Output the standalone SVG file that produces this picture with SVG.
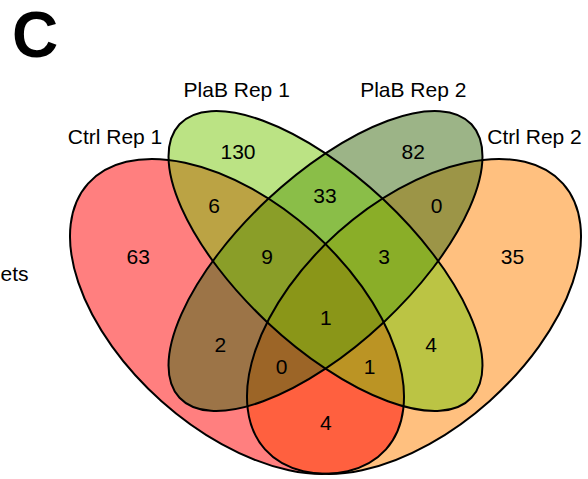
<svg xmlns="http://www.w3.org/2000/svg" width="588" height="479" viewBox="0 0 588 479">
  <style>
    .fill { stroke: none; fill-opacity: 0.5; }
    .line { fill: none; stroke: #000; stroke-width: 2; }
    .cat { font-family: "Liberation Sans", Arial, Helvetica, sans-serif; font-size: 21px; fill: #000; text-anchor: middle; }
    .num { font-family: "Liberation Sans", Arial, Helvetica, sans-serif; font-size: 21px; fill: #000; text-anchor: middle; }
  </style>
  <rect x="0" y="0" width="588" height="479" fill="#fff"/>

  <text x="12" y="57" font-family="Liberation Sans, Arial, sans-serif" font-weight="bold" font-size="64" fill="#000">C</text>
  <text x="0.5" y="281" font-family="Liberation Sans, Arial, sans-serif" font-size="21" fill="#000">ets</text>

  <!-- set fills (drawn first, semi-transparent) -->
  <g id="fills">
    <ellipse id="fill-ctrl2" class="fill" fill="#FF8200" cx="414" cy="316.5" rx="199.6" ry="113.4" transform="rotate(-41.72 414 316.5)"/>
    <ellipse id="fill-ctrl1" class="fill" fill="#FF0000" cx="237" cy="316.5" rx="199.6" ry="113.4" transform="rotate(41.72 237 316.5)"/>
    <ellipse id="fill-plab2" class="fill" fill="#3A6A10" cx="325.5" cy="261" rx="200" ry="84.5" transform="rotate(-43.13 325.5 261)"/>
    <ellipse id="fill-plab1" class="fill" fill="#78C80A" cx="325.5" cy="261" rx="200" ry="84.5" transform="rotate(43.13 325.5 261)"/>
  </g>

  <!-- set outlines (on top of all fills) -->
  <g id="outlines">
    <ellipse class="line" cx="414" cy="316.5" rx="199.6" ry="113.4" transform="rotate(-41.72 414 316.5)"/>
    <ellipse class="line" cx="237" cy="316.5" rx="199.6" ry="113.4" transform="rotate(41.72 237 316.5)"/>
    <ellipse class="line" cx="325.5" cy="261" rx="200" ry="84.5" transform="rotate(-43.13 325.5 261)"/>
    <ellipse class="line" cx="325.5" cy="261" rx="200" ry="84.5" transform="rotate(43.13 325.5 261)"/>
  </g>

  <!-- set labels -->
  <g id="set-ctrl-rep-1"><text class="cat" x="115" y="144">Ctrl Rep 1</text></g>
  <g id="set-plab-rep-1"><text class="cat" x="236.7" y="97.3">PlaB Rep 1</text></g>
  <g id="set-plab-rep-2"><text class="cat" x="413.3" y="96.7">PlaB Rep 2</text></g>
  <g id="set-ctrl-rep-2"><text class="cat" x="534.5" y="144">Ctrl Rep 2</text></g>

  <!-- region counts -->
  <g id="regions">
    <text class="num" x="238" y="159.3">130</text>
    <text class="num" x="413.3" y="159.3">82</text>
    <text class="num" x="214" y="213.3">6</text>
    <text class="num" x="325" y="203.3">33</text>
    <text class="num" x="436.7" y="213.3">0</text>
    <text class="num" x="138.3" y="264">63</text>
    <text class="num" x="267" y="264">9</text>
    <text class="num" x="384" y="264">3</text>
    <text class="num" x="512.5" y="264">35</text>
    <text class="num" x="325.8" y="325">1</text>
    <text class="num" x="220.3" y="352.3">2</text>
    <text class="num" x="431" y="352.3">4</text>
    <text class="num" x="281.7" y="374.3">0</text>
    <text class="num" x="369.6" y="374.3">1</text>
    <text class="num" x="325.8" y="430">4</text>
  </g>
</svg>
